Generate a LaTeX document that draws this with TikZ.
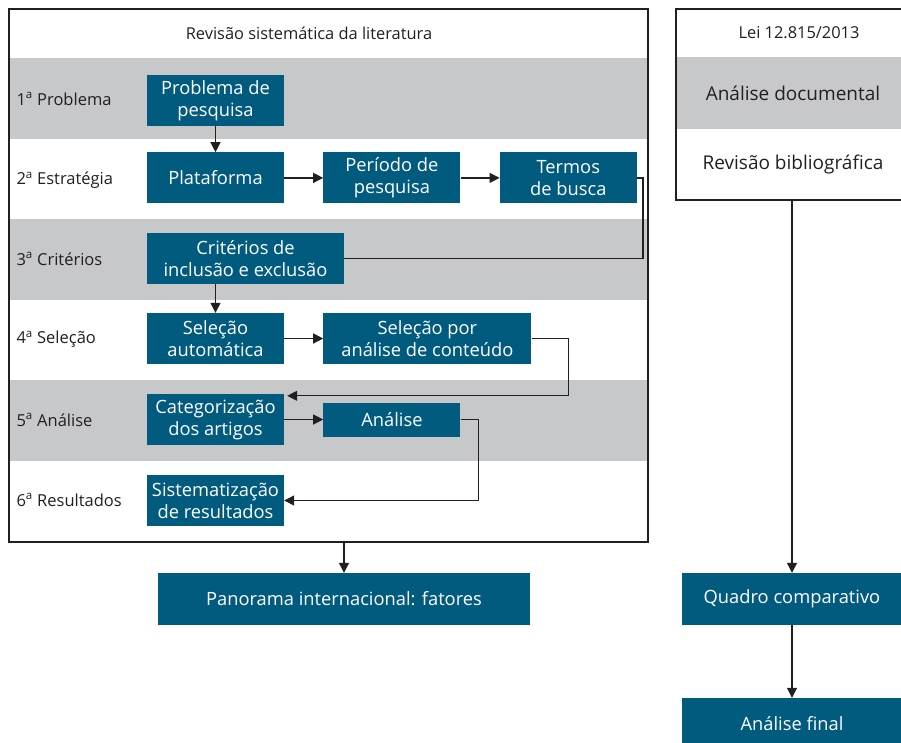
\documentclass[tikz,border=0pt]{standalone}
\usepackage{fontspec}
\setmainfont{Open Sans}
\usetikzlibrary{positioning,arrows.meta}
\definecolor{boxColor}{RGB}{0,91,127}
\definecolor{bandColor}{RGB}{199,200,202}
\definecolor{lineColor}{RGB}{35,31,32}
\tikzset{
    stepbox/.style={
        rectangle,
        fill=boxColor,
        text=white,
        font=\fontsize{18.3}{22}\selectfont,
        align=center,
        inner sep=0pt,
        minimum width=137,
        minimum height=51
    },
    frame/.style={
        rectangle,
        draw=lineColor,
        line width=1.2pt,
        inner sep=0pt
    },
    rowlabel/.style={anchor=west, text=lineColor, font=\fontsize{16.5}{20}\selectfont},
    headtext/.style={text=lineColor, font=\fontsize{16.4}{20}\selectfont},
    rowtext/.style={text=lineColor, font=\fontsize{19}{22}\selectfont},
    ptr/.style={
        -{Triangle[length=10pt,width=10pt]},
        line width=1.2pt,
        draw=lineColor
    },
    link/.style={line width=1.2pt, draw=lineColor}
}

\begin{document}
\begin{tikzpicture}[x=1pt,y=-1pt]
    \useasboundingbox (0,0) rectangle (901,742);

    % faixas cinza
    \fill[bandColor] (9,58) rectangle (648,139);
    \fill[bandColor] (9,219) rectangle (648,300);
    \fill[bandColor] (9,380) rectangle (648,461);
    \fill[bandColor] (676,57) rectangle (901,129);

    \node[frame, minimum width=639, minimum height=533] (rsl) at (328.5,275.5) {};
    \node[frame, minimum width=234, minimum height=191] (lei) at (793,104.5) {};

    \node[headtext] (rslhead) at (309,33) {Revisão sistemática da literatura};
    \node[headtext] (leihead) at (799,33) {Lei 12.815/2013};
    \node[rowtext] (docan) at (793,93) {Análise documental};
    \node[rowtext] (bibrev) at (793,164) {Revisão bibliográfica};

    \node[rowlabel] (r1) at (13,99) {1\textsuperscript{a} Problema};
    \node[rowlabel] (r2) at (13,180) {2\textsuperscript{a} Estratégia};
    \node[rowlabel] (r3) at (13,259) {3\textsuperscript{a} Critérios};
    \node[rowlabel] (r4) at (13,339) {4\textsuperscript{a} Seleção};
    \node[rowlabel] (r5) at (13,420) {5\textsuperscript{a} Análise};
    \node[rowlabel] (r6) at (13,500) {6\textsuperscript{a} Resultados};

    \node[stepbox] (prob) at (215.5,100.5) {Problema de\\pesquisa};
    \node[stepbox, below=26pt of prob] (plat) {Plataforma};
    \node[stepbox, right=39pt of plat] (periodo) {Período de\\pesquisa};
    \node[stepbox, right=39pt of periodo] (termos) {Termos\\de busca};
    \node[stepbox, minimum width=197] (crit) at (245.5,258.5) {Critérios de\\inclusão e exclusão};
    \node[stepbox] (selauto) at (215.5,338.5) {Seleção\\automática};
    \node[stepbox, minimum width=208, right=39pt of selauto] (selpor) {Seleção por\\análise de conteúdo};
    \node[stepbox] (categ) at (215.5,419.5) {Categorização\\dos artigos};
    \node[stepbox, minimum height=34, right=39pt of categ] (analise) {Análise};
    \node[stepbox] (sist) at (215.5,500.5) {Sistematização\\de resultados};

    \node[stepbox, minimum width=372, minimum height=52] (panorama) at (344,599) {Panorama internacional: fatores};
    \node[stepbox, minimum width=220, minimum height=52] (quadro) at (792,599) {Quadro comparativo};
    \node[stepbox, minimum width=220, minimum height=52] (final) at (792,724) {Análise final};

    \coordinate (catin) at ([shift={(3,2)}]categ.north east);

    \draw[ptr] (prob) -- (plat);
    \draw[ptr] (plat) -- (periodo);
    \draw[ptr] (periodo) -- (termos);
    \draw[link] (termos.east) -- ++(6,0) |- (crit.east);
    \draw[ptr] (crit.south -| selauto.north) -- (selauto.north);
    \draw[ptr] (selauto) -- (selpor);
    \draw[ptr] (selpor.east) -- ++(37,0) |- (catin);
    \draw[ptr] (categ.east) -- (analise.west);
    \draw[ptr] (analise.east) -- ++(18,0) |- (sist.east);

    \draw[ptr] (rsl.south -| panorama.north) -- (panorama.north);
    \draw[ptr] (lei.south -| quadro.north) -- (quadro.north);
    \draw[ptr] (quadro) -- (final);
\end{tikzpicture}
\end{document}
